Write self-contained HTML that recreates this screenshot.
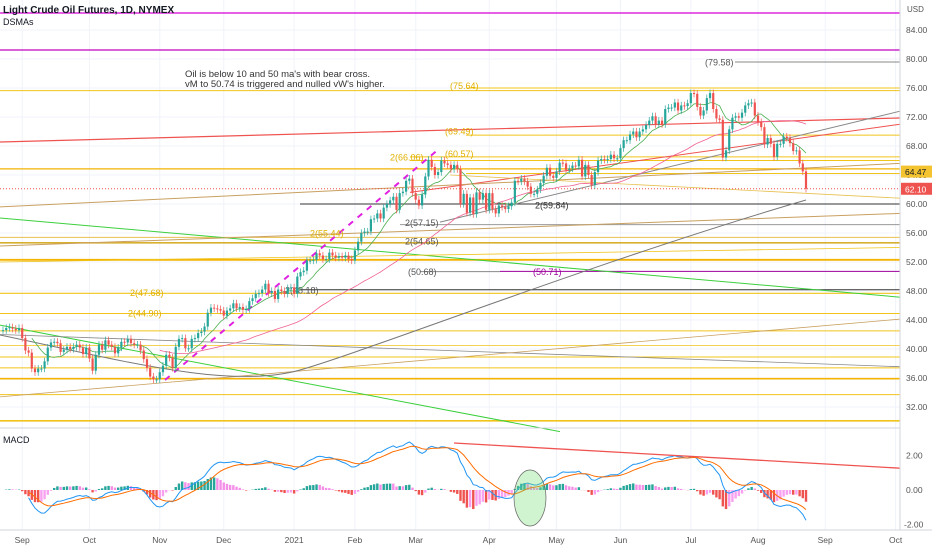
<!DOCTYPE html>
<html><head><meta charset="utf-8"><style>
html,body{margin:0;padding:0;background:#fff;width:932px;height:550px;overflow:hidden;font-family:"Liberation Sans",sans-serif}
svg text{font-family:"Liberation Sans",sans-serif}
</style></head><body>
<svg id="chart" width="932" height="550" xmlns="http://www.w3.org/2000/svg">
<g id="grid"></g>
<g id="levels"></g>
<g id="mas"></g>
<g id="candles"></g>
<g id="macd"></g>
<g id="axes"></g>
<text x="3" y="13" font-size="10" font-weight="bold" fill="#131722">Light Crude Oil Futures, 1D, NYMEX</text>
<text x="3" y="25" font-size="9" fill="#131722">DSMAs</text>
<text x="185" y="77" font-size="9.5" fill="#333">Oil is below 10 and 50 ma's with bear cross.</text>
<text x="185" y="87" font-size="9.5" fill="#333">vM to 50.74 is triggered and nulled vW's higher.</text>
<text x="3" y="443" font-size="9" fill="#131722">MACD</text>
</svg>
<script>
const closes=[42.6,42.9,43.0,42.8,42.6,42.9,
41.5,39.8,39.5,37.3,36.8,37.3,37.3,38.3,40.2,40.9,41.0,40.8,39.6,39.9,40.3,40.0,40.3,40.6,40.2,39.3,40.2,
38.7,37.0,39.2,40.6,39.9,41.2,40.6,40.3,39.4,40.2,41.0,40.9,41.4,40.8,40.6,40.6,39.8,38.6,37.4,36.2,35.8,35.8,
36.8,37.7,39.2,38.8,37.4,40.3,41.4,41.5,40.1,40.1,41.4,41.5,42.2,42.4,43.1,45.0,45.7,45.6,45.5,45.3,
44.6,45.3,45.6,46.3,45.6,45.8,45.4,45.5,46.6,47.0,47.6,47.7,48.2,49.0,47.7,48.0,46.9,48.2,48.0,47.6,48.4,48.5,
47.6,50.0,50.6,50.8,52.2,52.2,52.3,53.2,52.9,52.4,52.4,53.3,52.9,52.6,52.8,52.6,52.9,52.4,52.2,
53.6,54.8,56.0,56.2,56.2,57.9,58.0,58.7,58.0,59.5,60.0,60.5,61.0,59.2,61.5,61.7,63.2,63.5,61.5,
60.6,59.8,61.3,63.8,66.1,65.1,64.0,64.4,66.0,65.6,65.4,64.8,65.4,64.8,60.0,61.4,58.8,60.9,58.6,61.6,60.6,61.5,59.2,
61.5,59.3,58.7,59.8,59.6,59.3,59.7,60.2,63.2,63.1,63.5,63.1,62.4,61.4,61.4,62.0,62.9,63.9,65.0,63.9,63.6,
64.5,65.7,65.6,64.7,64.9,65.3,65.2,66.1,63.8,65.4,64.0,62.6,64.4,66.0,66.2,66.1,66.2,66.8,66.3,66.3,
67.7,68.8,68.8,69.6,70.0,69.2,70.0,70.3,70.9,71.5,72.1,71.0,71.5,71.0,73.1,73.3,73.3,74.0,72.9,73.6,73.5,73.9,
75.3,75.2,73.4,72.2,72.9,74.6,75.3,73.1,71.8,71.6,66.4,67.4,70.3,71.9,72.1,71.9,72.6,73.6,73.9,74.0,72.2,
71.3,70.6,68.2,69.1,68.3,66.5,68.3,68.3,69.3,69.1,68.4,67.3,67.4,65.6,64.5,62.1];
const priceTicks=[84,80,76,72,68,64,60,56,52,48,44,40,36,32];
const macdTicks=[2,0,-2];
const months=["Sep","Oct","Nov","Dec","2021","Feb","Mar","Apr","May","Jun","Jul","Aug","Sep","Oct"];
const monthIdx=[6,27,49,69,91,110,129,152,173,193,215,236,257,279];
const hLevels=[[86.35,0,900,"#d500d5",1.2],[81.24,0,900,"#c000c0",1.2],[79.58,735,900,"#888",1],[75.64,0,900,"#f0c419",1],[76,466,900,"#f0c419",1],[69.5,466,900,"#f0c419",1],[66.5,410,900,"#f0c419",1],[66.0,410,900,"#f0c419",1],[64.85,0,900,"#f4b400",1.3],[64.2,466,900,"#f0c419",1],[60,300,900,"#333",1],[57.15,400,900,"#999",1],[55.4,0,900,"#e8c050",1],[54.65,0,900,"#d8b030",1.6],[52.3,0,900,"#f4b400",1.8],[50.68,420,500,"#888",1],[50.71,500,900,"#9c009c",1],[48.18,300,900,"#333",1],[47.68,0,900,"#f0c419",1.2],[44.9,0,900,"#f0c419",1],[42.5,0,900,"#f0c419",1],[40.5,0,900,"#f0c419",0.8],[38.9,0,900,"#f0c419",1],[37.4,0,900,"#f0c419",1],[35.9,0,900,"#f4b400",1.6],[33.7,0,900,"#f0c419",1],[30.1,0,900,"#f0c419",1.6]];
const diagLines=[[0,68.55,900,71.86,"#ef5350",1.2],[410,61.6,900,71.0,"#ef5350",1],[440,57.5,900,72.8,"#888",1],[0,59.6,900,65.6,"#c9a060",1],[0,58.07,932,46.76,"#3cd03c",1],[0,54.2,900,58.7,"#c9a060",1],[0,52.0,900,54.0,"#f0c419",0.8],[0,43.3,560,28.6,"#3cd03c",1],[0,42.0,932,37.4,"#888",0.8],[0,33.4,932,44.5,"#c9a060",0.8],[450,64.0,900,60.8,"#e8c050",0.8]];
const labels=[["(75.64)",450,76.3,"#e0b000"],["(69.49)",445,70.0,"#e0b000"],["2(66.06)",390,66.4,"#e0b000"],["(60.57)",445,66.9,"#e0b000"],["2(57.15)",405,57.4,"#555"],["2(54.65)",405,54.8,"#555"],["2(55.44)",310,55.9,"#e0b000"],["(50.68)",408,50.6,"#555"],["(50.71)",533,50.6,"#9c009c"],["2(47.68)",130,47.7,"#e0b000"],["2(44.90)",128,44.9,"#e0b000"],["2(48.18)",285,48.1,"#555"],["2(59.84)",535,59.8,"#333"],["(79.58)",705,79.5,"#555"]];
const NS="http://www.w3.org/2000/svg";
const N=closes.length,x0=3,step=(806-3)/(N-1);
const xi=i=>x0+i*step, py=p=>30+(84-p)*7.25, my=v=>490-v*17.25;
function mk(t,a,parent){const e=document.createElementNS(NS,t);for(const k in a)e.setAttribute(k,a[k]);parent.appendChild(e);return e;}
const G=id=>document.getElementById(id);
priceTicks.forEach(p=>{const l=mk('line',{x1:0,x2:900,y1:py(p),y2:py(p),stroke:'#f0f3fa'},G('grid'));

});
monthIdx.forEach(i=>{const l=mk('line',{x1:xi(i),x2:xi(i),y1:0,y2:530,stroke:'#f0f3fa'},G('grid'));

});
hLevels.forEach(h=>{const l=mk('line',{x1:h[1],x2:h[2],y1:py(h[0]),y2:py(h[0]),stroke:h[3],'stroke-width':h[4]},G('levels'));

});
diagLines.forEach(d=>{const l=mk('line',{x1:d[0],y1:py(d[1]),x2:d[2],y2:py(d[3]),stroke:d[4],'stroke-width':d[5]},G('levels'));

});
const dl=mk('line',{x1:165,y1:380,x2:440,y2:148,stroke:'#e020e0','stroke-width':2,'stroke-dasharray':'6,6'},G('levels'));


const cur=mk('line',{x1:0,x2:900,y1:py(closes[N-1]),y2:py(closes[N-1]),stroke:'#ef5350','stroke-dasharray':'1,2'},G('levels'));


const g200=mk('path',{d:'M0,335 C120,360 230,390 300,370 S600,260 806,200',fill:'none',stroke:'#777','stroke-width':1},G('levels'));


labels.forEach(t=>{const e=mk('text',{x:t[1],y:py(t[2])+3,'font-size':9,fill:t[3]},G('levels'));e.textContent=t[0];

});
function sma(n){return closes.map((c,i)=>i<n-1?null:closes.slice(i-n+1,i+1).reduce((a,b)=>a+b,0)/n);}
[[10,'#4caf50'],[50,'#f06292']].forEach(m=>{const v=sma(m[0]);let d='';v.forEach((y,i)=>{if(y!=null)d+=(d?'L':'M')+xi(i).toFixed(1)+','+py(y).toFixed(1);});
const p=mk('path',{d:d,fill:'none',stroke:m[1],'stroke-width':0.8},G('mas'));

});
closes.forEach((c,i)=>{const o=i?closes[i-1]:c;const up=c>=o;const col=up?'#26a69a':'#ef5350';
const hi=Math.max(o,c)+0.5,lo=Math.min(o,c)-0.5;const g=mk('g',{},G('candles'));


mk('line',{x1:xi(i),x2:xi(i),y1:py(hi),y2:py(lo),stroke:col,'stroke-width':0.7},g);
mk('rect',{x:xi(i)-1.1,y:py(Math.max(o,c)),width:2.2,height:Math.max(1,Math.abs(py(o)-py(c))),fill:col},g);});
function ema(a,n){const k=2/(n+1);const r=[];a.forEach((v,i)=>r.push(i?v*k+r[i-1]*(1-k):v));return r;}
const e12=ema(closes,12),e26=ema(closes,26),mline=e12.map((v,i)=>v-e26[i]),sig=ema(mline,9),hist=mline.map((v,i)=>v-sig[i]);
const M=G('macd');
const sep=mk('line',{x1:0,x2:932,y1:428,y2:428,stroke:'#d1d4dc'},M);


hist.forEach((h,i)=>{const prev=i?hist[i-1]:h;const col=h>=0?(h>=prev?'#26a69a':'#f48fe8'):(h<prev?'#ef5350':'#f7a1f0');
const b=mk('rect',{x:xi(i)-1.2,y:Math.min(my(0),my(h*1.1)),width:2.4,height:Math.abs(my(h*1.1)-my(0)),fill:col},M);

});
[[mline,'#2196f3','macd-line'],[sig,'#ff6d00','signal-line']].forEach(s=>{let d='';s[0].forEach((v,i)=>{if(i>=8)d+=(d?'L':'M')+xi(i).toFixed(1)+','+my(v).toFixed(1);});
const p=mk('path',{d:d,fill:'none',stroke:s[1],'stroke-width':1},M);

});
const rl=mk('line',{x1:454,y1:443,x2:932,y2:470,stroke:'#ef5350','stroke-width':1.3},M);


const el=mk('ellipse',{cx:530,cy:498,rx:16,ry:28,fill:'rgba(120,220,120,0.35)',stroke:'#666','stroke-width':0.7},M);


const A=G('axes');
mk('rect',{x:900,y:0,width:32,height:550,fill:'#fff'},A);
mk('line',{x1:900,x2:900,y1:0,y2:530,stroke:'#d1d4dc'},A);
mk('line',{x1:0,x2:932,y1:530,y2:530,stroke:'#d1d4dc'},A);
const usd=mk('text',{x:907,y:12,'font-size':8,fill:'#555'},A);usd.textContent='USD';


priceTicks.forEach(p=>{const t=mk('text',{x:906,y:py(p)+3,'font-size':8.5,fill:'#555'},A);t.textContent=p.toFixed(2);

});
macdTicks.forEach(v=>{const t=mk('text',{x:v<0?904:906,y:my(v)+3,'font-size':8.5,fill:'#555'},A);t.textContent=v.toFixed(2);

});
[[64.47,'#f4c430','#131722'],[closes[N-1],'#ef5350','#fff']].forEach(b=>{const g=mk('g',{},A);


mk('rect',{x:901,y:py(b[0])-6,width:31,height:12,fill:b[1]},g);
const t=mk('text',{x:905,y:py(b[0])+3.5,'font-size':8.5,fill:b[2]},g);t.textContent=b[0].toFixed(2);});
months.forEach((m,i)=>{const t=mk('text',{x:xi(monthIdx[i]),y:543,'font-size':8.5,fill:'#555','text-anchor':'middle'},A);t.textContent=m;

});
</script>
</body></html>
